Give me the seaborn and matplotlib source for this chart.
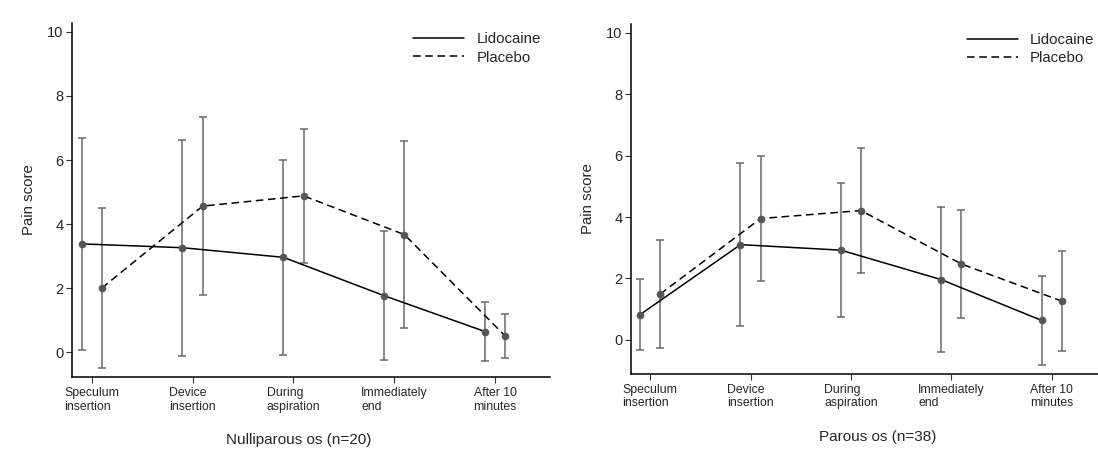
import numpy as np
import pandas as pd
import matplotlib
matplotlib.use("Agg")
import matplotlib.pyplot as plt
import seaborn as sns

# stage labels (x categories)
stages = ["Speculum\ninsertion", "Device\ninsertion", "During\naspiration",
          "Immediately\nend", "After 10\nminutes"]
groups = ["Lidocaine", "Placebo"]

# Nulliparous os (n=20): mean and SD
nulli_lido_mean = [3.38, 3.26, 2.96, 1.76, 0.64]
nulli_lido_sd = [3.30, 3.38, 3.05, 2.01, 0.91]
nulli_plac_mean = [2.00, 4.56, 4.88, 3.67, 0.50]
nulli_plac_sd = [2.50, 2.78, 2.10, 2.92, 0.69]

# Parous os (n=38): mean and SD
parous_lido_mean = [0.82, 3.10, 2.92, 1.96, 0.63]
parous_lido_sd = [1.16, 2.65, 2.18, 2.36, 1.46]
parous_plac_mean = [1.49, 3.95, 4.21, 2.47, 1.26]
parous_plac_sd = [1.77, 2.05, 2.03, 1.75, 1.64]

titles = ["Nulliparous os (n=20)", "Parous os (n=38)"]


def make_df(lido_m, lido_s, plac_m, plac_s):
    rows = []
    for i in range(len(stages)):
        rows.append({"idx": i, "group": "Lidocaine", "mean": lido_m[i], "sd": lido_s[i]})
        rows.append({"idx": i, "group": "Placebo", "mean": plac_m[i], "sd": plac_s[i]})
    df = pd.DataFrame(rows)
    df["xpos"] = df["idx"] + df["group"].map({"Lidocaine": -0.1, "Placebo": 0.1})
    return df


sns.set_style("white")
plt.rcParams["font.family"] = ["Liberation Sans", "DejaVu Sans"]

fig = plt.figure(figsize=(10.98, 4.51), dpi=100)
ax1 = fig.add_axes([0.0656, 0.164, 0.435, 0.785])
ax2 = fig.add_axes([0.5747, 0.171, 0.4253, 0.776])

panels = [
    (ax1, make_df(nulli_lido_mean, nulli_lido_sd, nulli_plac_mean, nulli_plac_sd),
     (-0.195, 4.54), (-0.78, 10.28), (1.0, 1.0)),
    (ax2, make_df(parous_lido_mean, parous_lido_sd, parous_plac_mean, parous_plac_sd),
     (-0.19, 4.46), (-1.11, 10.29), (1.012, 1.0)),
]

for k, (ax, df, xl, yl, anchor) in enumerate(panels):
    # error bars (mean +/- SD)
    ax.errorbar(df["xpos"], df["mean"], yerr=df["sd"], fmt="none",
                ecolor="#6a6a6a", elinewidth=1.1, capsize=2.6, capthick=1.1, zorder=1)
    sns.lineplot(data=df, x="xpos", y="mean", style="group", style_order=groups,
                 dashes={"Lidocaine": "", "Placebo": (5, 3)}, color="black",
                 linewidth=1.1, ax=ax, legend=True, zorder=2)
    sns.scatterplot(data=df, x="xpos", y="mean", color="#555555", s=26,
                    edgecolor="#555555", ax=ax, legend=False, zorder=3)

    ax.set_xlim(*xl)
    ax.set_ylim(*yl)
    ax.set_xticks(range(len(stages)))
    ax.set_xticklabels(stages, fontsize=8.8, multialignment="left")
    ax.set_yticks([0, 2, 4, 6, 8, 10])
    ax.tick_params(axis="y", labelsize=10.5, length=4, width=0.8, color="#333333",
                   left=True, pad=2)
    ax.tick_params(axis="x", length=4, width=0.8, color="#333333", bottom=True, pad=3)
    ax.set_xlabel("")
    ax.set_ylabel("Pain score", fontsize=10.8, labelpad=8)
    for side in ["top", "right"]:
        ax.spines[side].set_visible(False)
    for side in ["left", "bottom"]:
        ax.spines[side].set_color("black")
        ax.spines[side].set_linewidth(1.1)

    leg = ax.legend(loc="upper right", frameon=False, fontsize=10.8, handlelength=3.4,
                    labelspacing=0.3, borderaxespad=0.2, bbox_to_anchor=anchor)
    for line in leg.get_lines():
        line.set_linewidth(1.1)

fig.text(0.272, 0.008, titles[0], ha="center", va="bottom", fontsize=11)
fig.text(0.799, 0.016, titles[1], ha="center", va="bottom", fontsize=11)

fig.savefig("out.png", dpi=100)
